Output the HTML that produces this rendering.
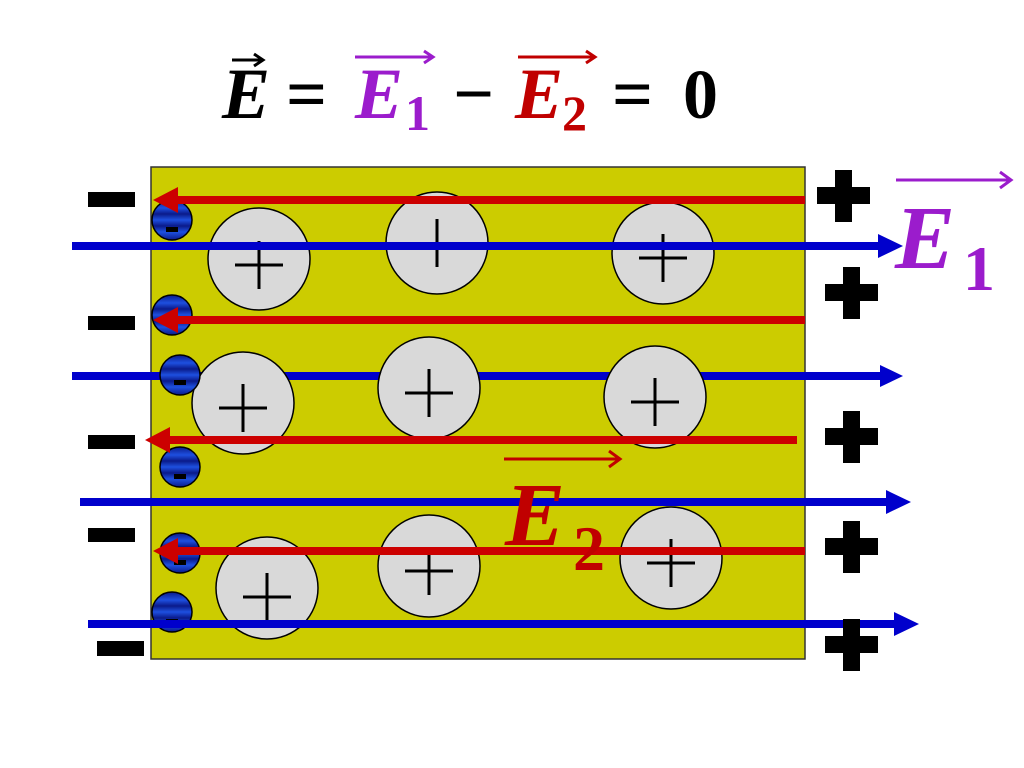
<!DOCTYPE html>
<html><head><meta charset="utf-8"><style>
html,body{margin:0;padding:0;background:#fff;}
svg{display:block;}
text{font-family:"Liberation Serif",serif;font-weight:bold;}
</style></head><body>
<svg width="1024" height="768" viewBox="0 0 1024 768" xmlns="http://www.w3.org/2000/svg">
<defs>
<linearGradient id="bl" x1="0" y1="0" x2="0" y2="1">
<stop offset="0" stop-color="#0a1a8a"/><stop offset="0.2" stop-color="#1e50e0"/><stop offset="0.35" stop-color="#0a1a8a"/><stop offset="0.5" stop-color="#1e50e0"/><stop offset="0.65" stop-color="#0a1a8a"/><stop offset="0.8" stop-color="#1e50e0"/><stop offset="1" stop-color="#0a1a8a"/>
</linearGradient>
</defs>
<!-- formula -->
<g font-style="italic" font-size="72">
<text x="222" y="118" fill="#000">E</text>
<text x="355" y="118" fill="#9b1ccc">E</text>
<text x="515" y="118" fill="#c00000">E</text>
</g>
<text x="405" y="130" font-size="50" fill="#9b1ccc">1</text>
<text x="562" y="130" font-size="50" fill="#c00000">2</text>
<text x="286" y="118" font-size="72" fill="#000">=</text>
<text x="453" y="118" font-size="72" fill="#000">−</text>
<text x="612" y="118" font-size="72" fill="#000">=</text>
<text x="683" y="118" font-size="70" fill="#000">0</text>
<g fill="none" stroke-width="3">
<path d="M232 60H262M254 54L263 60L254 66" stroke="#000"/>
<path d="M355 57H432M424 51L433 57L424 63" stroke="#9b1ccc"/>
<path d="M518 57H594M586 51L595 57L586 63" stroke="#c00000"/>
</g>
<!-- plate -->
<rect x="151" y="167" width="654" height="492" fill="#cccc00" stroke="#333" stroke-width="1.5"/>
<g stroke="#0000cc" stroke-width="8">
<line x1="72" y1="376" x2="880" y2="376"/>
</g>
<polygon points="880,365 903,376 880,387" fill="#0000cc"/>
<!-- big circles -->
<g fill="#d9d9d9" stroke="#000" stroke-width="1.5">
<circle cx="259" cy="259" r="51"/><circle cx="437" cy="243" r="51"/><circle cx="663" cy="253" r="51"/>
<circle cx="243" cy="403" r="51"/><circle cx="429" cy="388" r="51"/><circle cx="655" cy="397" r="51"/>
<circle cx="267" cy="588" r="51"/><circle cx="429" cy="566" r="51"/><circle cx="671" cy="558" r="51"/>
</g>
<g stroke="#000" stroke-width="3">
<path d="M235 265H283M259 241V289"/>
<path d="M437 219V267"/>
<path d="M639 258H687M663 234V282"/>
<path d="M219 408H267M243 384V432"/>
<path d="M405 393H453M429 369V417"/>
<path d="M631 402H679M655 378V426"/>
<path d="M243 597H291M267 573V621"/>
<path d="M405 571H453M429 547V595"/>
<path d="M647 563H695M671 539V587"/>
</g>
<!-- small electrons -->
<g stroke="#000" stroke-width="1.5" fill="url(#bl)">
<circle cx="172" cy="220" r="20"/><circle cx="172" cy="315" r="20"/><circle cx="180" cy="375" r="20"/>
<circle cx="180" cy="467" r="20"/><circle cx="180" cy="553" r="20"/><circle cx="172" cy="612" r="20"/>
</g>
<g fill="#000">
<rect x="166" y="227" width="12" height="5"/><rect x="174" y="380" width="12" height="5"/><rect x="174" y="474" width="12" height="5"/><rect x="174" y="560" width="12" height="5"/><rect x="166" y="619" width="12" height="5"/>
</g>
<g stroke="#0000cc" stroke-width="8">
<line x1="72" y1="246" x2="880" y2="246"/>
<line x1="80" y1="502" x2="888" y2="502"/>
<line x1="88" y1="624" x2="896" y2="624"/>
</g>
<g fill="#0000cc">
<polygon points="878,234 903,246 878,258"/>
<polygon points="886,490 911,502 886,514"/>
<polygon points="894,612 919,624 894,636"/>
</g>
<g stroke="#cc0000" stroke-width="8">
<line x1="805" y1="200" x2="175" y2="200"/>
<line x1="805" y1="320" x2="175" y2="320"/>
<line x1="797" y1="440" x2="167" y2="440"/>
<line x1="805" y1="551" x2="175" y2="551"/>
</g>
<g fill="#cc0000">
<polygon points="178,187 153,200 178,213"/>
<polygon points="178,307 153,320 178,333"/>
<polygon points="170,427 145,440 170,453"/>
<polygon points="178,538 153,551 178,564"/>
</g>
<g fill="#000">
<rect x="88" y="192" width="47" height="15"/>
<rect x="88" y="316" width="47" height="14"/>
<rect x="88" y="435" width="47" height="14"/>
<rect x="88" y="528" width="47" height="14"/>
<rect x="97" y="641" width="47" height="15"/>
</g>
<g fill="#000">
<path d="M835 170h17v17h18v17h-18v18h-17v-18h-18v-17h18z"/>
<path d="M843 267h17v17h18v17h-18v18h-17v-18h-18v-17h18z"/>
<path d="M843 411h17v17h18v17h-18v18h-17v-18h-18v-17h18z"/>
<path d="M843 521h17v17h18v17h-18v18h-17v-18h-18v-17h18z"/>
<path d="M843 619h17v17h18v17h-18v18h-17v-18h-18v-17h18z"/>
</g>
<text x="895" y="268" font-size="90" font-style="italic" fill="#9b1ccc">E</text>
<text x="963" y="290" font-size="64" fill="#9b1ccc">1</text>
<path d="M896 180H1010M1000 172L1011 180L1000 188" fill="none" stroke="#9b1ccc" stroke-width="3"/>
<text x="505" y="545" font-size="90" font-style="italic" fill="#c00000">E</text>
<text x="573" y="570" font-size="64" fill="#c00000">2</text>
<path d="M504 459H619M609 451L620 459L609 467" fill="none" stroke="#c00000" stroke-width="3"/>
</svg>
</body></html>
